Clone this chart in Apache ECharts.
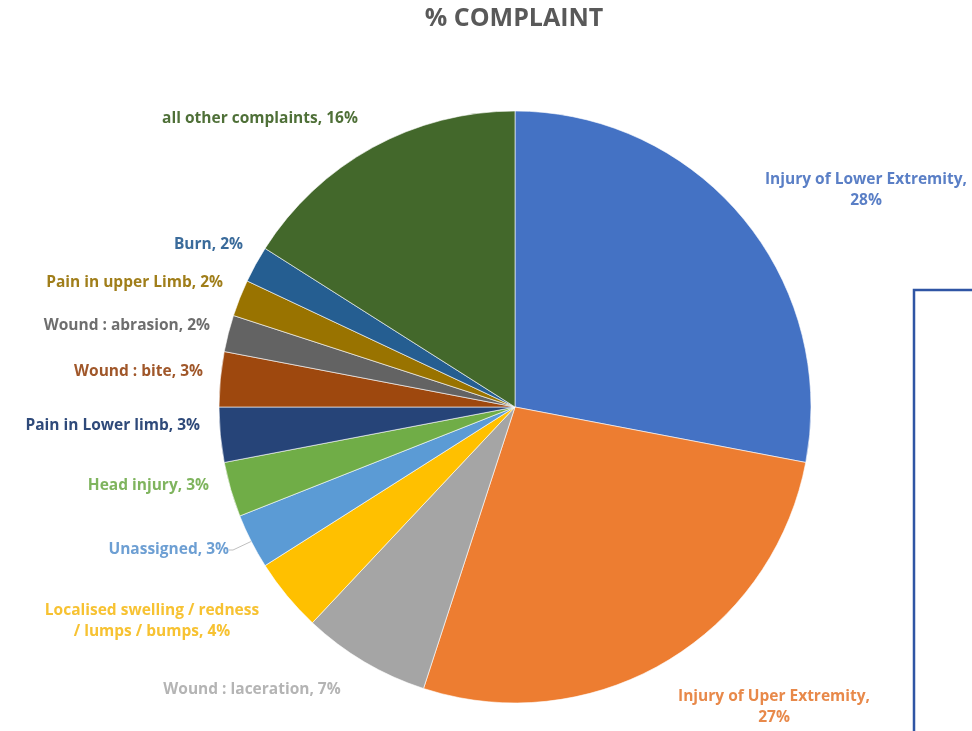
<!DOCTYPE html>
<html>
<head>
<meta charset="utf-8">
<script src="https://cdn.jsdelivr.net/npm/echarts@6/dist/echarts.min.js"></script>
<style>html,body{margin:0;padding:0;background:#fff}#c{width:972px;height:731px}</style>
</head>
<body>
<div id="c"></div>
<script>
// ---- data ----
const chartTitle = '% COMPLAINT';
const categories = [
  'Injury of Lower Extremity',
  'Injury of Uper Extremity',
  'Wound : laceration',
  'Localised swelling / redness / lumps / bumps',
  'Unassigned',
  'Head injury',
  'Pain in Lower limb',
  'Wound : bite',
  'Wound : abrasion',
  'Pain in upper Limb',
  'Burn',
  'all other complaints'
];
const values = [28, 27, 7, 4, 3, 3, 3, 3, 2, 2, 2, 16];

// ---- style ----
const colors = ['#4472C4','#ED7D31','#A5A5A5','#FFC000','#5B9BD5','#70AD47','#264478','#9E480E','#636363','#997300','#255E91','#43682B'];
const labelColors = ['#5a7fc6','#e8894a','#b4b4b4','#f7c232','#6d9fd3','#7fb45e','#2f4a7a','#a0572a','#6e6e6e','#a07e1a','#3a6b9b','#4f7038'];
// label anchor positions [x, y, align]
const labelPos = [
  [866, 190, 'center'],
  [774, 707, 'center'],
  [252, 690, 'center'],
  [152, 621, 'center'],
  [229, 550, 'right'],
  [209, 486, 'right'],
  [200, 426, 'right'],
  [203, 372, 'right'],
  [210, 326, 'right'],
  [223, 283, 'right'],
  [243, 245, 'right'],
  [260, 119, 'center']
];

function labelText(i) {
  const n = categories[i], v = values[i] + '%';
  if (i === 0 || i === 1) return n + ',\n' + v;
  if (i === 3) return 'Localised swelling / redness\n/ lumps / bumps, ' + v;
  return n + ', ' + v;
}

const chart = echarts.init(document.getElementById('c'));
chart.setOption({
  animation: false,
  graphic: [{
    type: 'text',
    x: 514, y: 19,
    style: {
      text: chartTitle, align: 'center', verticalAlign: 'middle',
      font: 'bold 25px "Open Sans"', fill: '#595959'
    }
  }, {
    type: 'rect',
    shape: { x: 914, y: 290, width: 120, height: 500 },
    style: { fill: 'none', stroke: '#2f55a4', lineWidth: 2.5 },
    z: 10
  }],
  series: [{
    type: 'pie',
    center: [515, 407],
    radius: 296,
    startAngle: 90,
    clockwise: true,
    itemStyle: { borderColor: '#ffffff', borderWidth: 0.6 },
    label: {
      show: true,
      position: 'outside',
      fontFamily: 'Open Sans',
      fontWeight: 'bold',
      fontSize: 15.5,
      lineHeight: 21,
      overflow: 'none',
      width: 400,
      formatter: p => labelText(p.dataIndex)
    },
    labelLine: { show: false },
    labelLayout: function (params) {
      const p = labelPos[params.dataIndex];
      return { x: p[0], y: p[1], align: p[2], verticalAlign: 'middle', moveOverlap: false, hideOverlap: false };
    },
    data: values.map((v, i) => ({
      name: categories[i],
      value: v,
      itemStyle: { color: colors[i] },
      label: { color: labelColors[i], align: labelPos[i][2] === 'center' ? 'center' : 'right' },
      labelLine: i === 4 ? { show: true, length: 4, length2: 4, lineStyle: { color: '#bfbfbf', width: 1 } } : { show: false }
    }))
  }]
});
</script>
</body>
</html>
